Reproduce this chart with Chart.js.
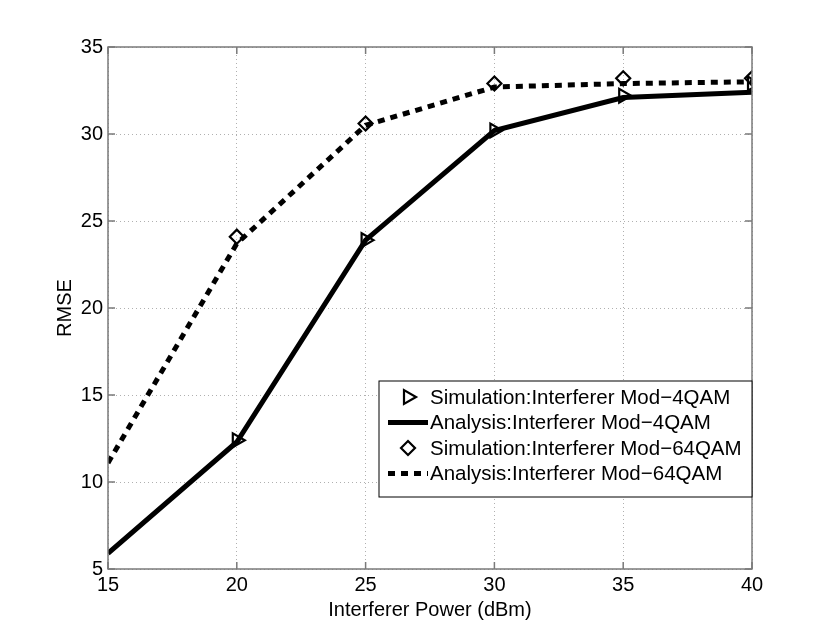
<!DOCTYPE html>
<html>
<head>
<meta charset="utf-8">
<script src="https://cdn.jsdelivr.net/npm/chart.js@4"></script>
<style>
  html, body { margin: 0; padding: 0; background: #fff; }
  #wrap { width: 830px; height: 641px; }
</style>
</head>
<body>
<div id="wrap"><canvas id="myChart" width="830" height="641"></canvas></div>
<script>
// interferer power (dBm)
var powerDbm = [15, 20, 25, 30, 35, 40];
// RMSE values
var sim4qam = [null, 12.4, 23.9, 30.2, 32.2, 32.9];
var ana4qam = [5.9, 12.3, 23.9, 30.2, 32.1, 32.4];
var sim64qam = [null, 24.1, 30.6, 32.9, 33.2, 33.2];
var ana64qam = [11.1, 23.7, 30.5, 32.7, 32.9, 33.0];
var yTicks = [5, 10, 15, 20, 25, 30, 35];

var FONT = "'Liberation Sans', Arial, Helvetica, sans-serif";

function toPoints(vals) {
    var out = [];
    for (var i = 0; i < vals.length; i++) {
        if (vals[i] !== null) out.push({x: powerDbm[i], y: vals[i]});
    }
    return out;
}

var dts = [
    {
        label: "Simulation:Interferer Mod\u22124QAM",
        data: toPoints(sim4qam),
        showLine: false,
        pointStyle: "triangle",
        rotation: 90,
        pointRadius: 8,
        pointBorderWidth: 2.2,
        pointBorderColor: "#000",
        pointBackgroundColor: "rgba(255,255,255,0)",
        borderColor: "#000"
    },
    {
        label: "Analysis:Interferer Mod\u22124QAM",
        data: toPoints(ana4qam),
        borderColor: "#000",
        borderWidth: 5,
        pointRadius: 0,
        fill: false,
        tension: 0
    },
    {
        label: "Simulation:Interferer Mod\u221264QAM",
        data: toPoints(sim64qam),
        showLine: false,
        pointStyle: "rectRot",
        pointRadius: 7,
        pointBorderWidth: 2.2,
        pointBorderColor: "#000",
        pointBackgroundColor: "rgba(255,255,255,0)",
        borderColor: "#000"
    },
    {
        label: "Analysis:Interferer Mod\u221264QAM",
        data: toPoints(ana64qam),
        borderColor: "#000",
        borderWidth: 5,
        borderDash: [7, 6],
        borderCapStyle: "butt",
        pointRadius: 0,
        fill: false,
        tension: 0
    }
];

// frame + inward ticks like matlab
var framePlugin = {
    id: "frame",
    afterDatasetsDraw: function (chart) {
        var ctx = chart.ctx, a = chart.chartArea;
        var xs = chart.scales.x, ys = chart.scales.y;
        ctx.save();
        ctx.strokeStyle = "#7a7a7a";
        ctx.lineWidth = 1.5;
        ctx.strokeRect(a.left, a.top, a.right - a.left, a.bottom - a.top);
        ctx.beginPath();
        var t = 7;
        xs.ticks.forEach(function (tk) {
            var px = xs.getPixelForValue(tk.value);
            ctx.moveTo(px, a.bottom); ctx.lineTo(px, a.bottom - t);
            ctx.moveTo(px, a.top); ctx.lineTo(px, a.top + t);
        });
        ys.ticks.forEach(function (tk) {
            var py = ys.getPixelForValue(tk.value);
            ctx.moveTo(a.left, py); ctx.lineTo(a.left + t, py);
            ctx.moveTo(a.right, py); ctx.lineTo(a.right - t, py);
        });
        ctx.stroke();
        ctx.restore();
    }
};

// legend box inside the plot, bottom right
var legendPlugin = {
    id: "boxLegend",
    afterDraw: function (chart) {
        var ctx = chart.ctx, a = chart.chartArea;
        var w = 373, h = 116;
        var x0 = a.right - w, y0 = 381;
        ctx.save();
        ctx.fillStyle = "#fff";
        ctx.fillRect(x0, y0, w, h);
        ctx.strokeStyle = "#000";
        ctx.lineWidth = 1;
        ctx.strokeRect(x0, y0, w, h);
        ctx.textBaseline = "middle";
        chart.data.datasets.forEach(function (ds, i) {
            var cy = y0 + 16 + i * 25.5;
            var mx = x0 + 29;
            if (ds.showLine === false) {
                ctx.lineWidth = ds.pointBorderWidth;
                ctx.strokeStyle = "#000";
                ctx.fillStyle = "#fff";
                Chart.helpers.drawPoint(ctx, {
                    pointStyle: ds.pointStyle,
                    rotation: ds.rotation || 0,
                    radius: ds.pointRadius,
                    borderWidth: ds.pointBorderWidth
                }, mx, cy);
            } else {
                ctx.beginPath();
                ctx.lineWidth = 5;
                ctx.strokeStyle = "#000";
                ctx.setLineDash(ds.borderDash || []);
                ctx.lineCap = "butt";
                ctx.moveTo(x0 + 9, cy);
                ctx.lineTo(x0 + 49, cy);
                ctx.stroke();
                ctx.setLineDash([]);
            }
            ctx.font = "20.5px " + FONT;
            ctx.fillStyle = "#000";
            ctx.fillText(ds.label, x0 + 51, cy + 1);
        });
        ctx.restore();
    }
};

var ctx = document.getElementById("myChart").getContext("2d");
var mychart = new Chart(ctx, {
    type: "line",
    data: {datasets: dts},
    plugins: [framePlugin, legendPlugin],
    options: {
        responsive: false,
        animation: false,
        layout: {padding: {left: 0, top: 47, right: 78, bottom: 0}},
        plugins: {legend: {display: false}, tooltip: {enabled: false}},
        scales: {
            x: {
                type: "linear",
                min: 15, max: 40,
                ticks: {stepSize: 5, color: "#000", font: {family: FONT, size: 20}, padding: 4},
                grid: {color: "#b0b0b0", lineWidth: 1, drawTicks: false},
                border: {display: false, dash: [1, 3]},
                title: {display: true, text: "Interferer Power (dBm)", color: "#000",
                    font: {family: FONT, size: 20}, padding: {top: 0, bottom: 19}},
                afterFit: function (s) { s.height = 72; }
            },
            y: {
                min: 5, max: 35,
                afterBuildTicks: function (s) {
                    s.ticks = yTicks.map(function (v) { return {value: v}; });
                },
                ticks: {color: "#000", font: {family: FONT, size: 20}, padding: 5},
                grid: {color: "#b0b0b0", lineWidth: 1, drawTicks: false},
                border: {display: false, dash: [1, 3]},
                title: {display: true, text: "RMSE", color: "#000",
                    font: {family: FONT, size: 20}, padding: {top: 53, bottom: 0}},
                afterFit: function (s) { s.width = 108; }
            }
        }
    }
});
</script>
</body>
</html>
